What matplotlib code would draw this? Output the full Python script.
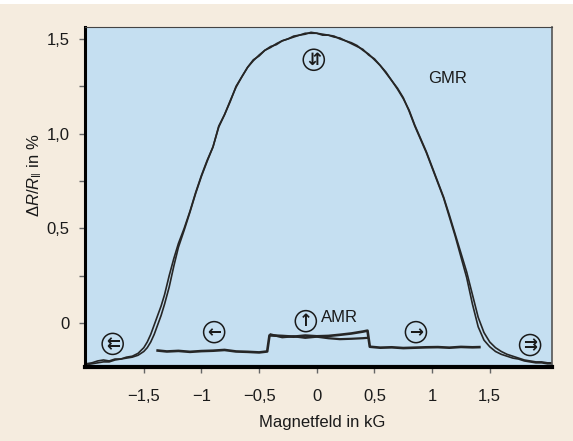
import matplotlib
matplotlib.use("Agg")
import matplotlib.pyplot as plt
from matplotlib.patches import Rectangle
from matplotlib.ticker import FixedLocator, FixedFormatter

# Werte
feld = [-2.00, -1.95, -1.90, -1.85, -1.80, -1.75, -1.70, -1.65, -1.60, -1.55,
        -1.50, -1.47, -1.44, -1.41, -1.38, -1.35, -1.32, -1.28, -1.24, -1.20,
        -1.15, -1.10, -1.05, -1.00, -0.95, -0.90, -0.85, -0.80, -0.75, -0.70,
        -0.65, -0.60, -0.55, -0.50, -0.45, -0.40, -0.35, -0.30, -0.25, -0.20,
        -0.15, -0.10, -0.05, 0.00, 0.05, 0.10, 0.15, 0.20, 0.25, 0.30,
        0.35, 0.40, 0.45, 0.50, 0.55, 0.60, 0.65, 0.70, 0.75, 0.80,
        0.85, 0.90, 0.95, 1.00, 1.05, 1.10, 1.15, 1.20, 1.25, 1.30,
        1.35, 1.40, 1.45, 1.50, 1.55, 1.60, 1.65, 1.70, 1.75, 1.80,
        1.85, 1.90, 1.95, 2.00, 2.04]

gmr_hin = [-0.215, -0.21, -0.20, -0.195, -0.20, -0.19, -0.19, -0.18, -0.175, -0.16,
           -0.13, -0.10, -0.06, -0.01, 0.04, 0.09, 0.15, 0.25, 0.34, 0.42,
           0.50, 0.59, 0.69, 0.78, 0.86, 0.93, 1.04, 1.10, 1.17, 1.25,
           1.30, 1.35, 1.39, 1.41, 1.44, 1.46, 1.47, 1.49, 1.50, 1.51,
           1.52, 1.53, 1.53, 1.53, 1.525, 1.52, 1.51, 1.505, 1.49, 1.48,
           1.465, 1.44, 1.42, 1.39, 1.36, 1.32, 1.28, 1.24, 1.19, 1.12,
           1.04, 0.97, 0.90, 0.82, 0.74, 0.66, 0.56, 0.46, 0.35, 0.24,
           0.10, -0.02, -0.09, -0.125, -0.15, -0.165, -0.175, -0.185, -0.19, -0.20,
           -0.205, -0.21, -0.21, -0.215, -0.215]

gmr_rueck = [-0.22, -0.215, -0.21, -0.205, -0.205, -0.195, -0.19, -0.185, -0.18, -0.17,
             -0.15, -0.13, -0.10, -0.06, -0.01, 0.04, 0.10, 0.19, 0.30, 0.40,
             0.49, 0.585, 0.685, 0.775, 0.855, 0.93, 1.035, 1.10, 1.175, 1.245,
             1.30, 1.35, 1.385, 1.415, 1.44, 1.455, 1.475, 1.49, 1.50, 1.515,
             1.52, 1.525, 1.535, 1.53, 1.52, 1.52, 1.515, 1.50, 1.49, 1.475,
             1.46, 1.445, 1.415, 1.395, 1.36, 1.325, 1.28, 1.235, 1.185, 1.125,
             1.045, 0.975, 0.905, 0.825, 0.745, 0.665, 0.57, 0.47, 0.37, 0.27,
             0.15, 0.03, -0.05, -0.10, -0.13, -0.15, -0.165, -0.175, -0.185, -0.195,
             -0.20, -0.205, -0.205, -0.21, -0.21]

amr_feld = [-1.38, -1.30, -1.20, -1.10, -1.00, -0.90, -0.80, -0.70, -0.60, -0.50,
            -0.43, -0.41, -0.30, -0.20, -0.10, 0.00, 0.10, 0.20, 0.30, 0.40,
            0.44, 0.46, 0.55, 0.65, 0.75, 0.85, 0.95, 1.05, 1.15, 1.25,
            1.35, 1.41]
amr_werte = [-0.145, -0.150, -0.147, -0.152, -0.148, -0.146, -0.142, -0.150, -0.152, -0.155,
             -0.150, -0.065, -0.068, -0.072, -0.066, -0.070, -0.068, -0.062, -0.055, -0.045,
             -0.040, -0.125, -0.130, -0.128, -0.132, -0.130, -0.128, -0.127, -0.130, -0.126,
             -0.128, -0.127]
amr_feld_mitte = [-0.40, -0.30, -0.20, -0.10, 0.00, 0.10, 0.20, 0.30, 0.40, 0.44]
amr_werte_mitte = [-0.060, -0.075, -0.070, -0.078, -0.072, -0.080, -0.085, -0.083, -0.080, -0.078]

x_ticks = [-1.5, -1.0, -0.5, 0.0, 0.5, 1.0, 1.5]
x_labels = ["\u22121,5", "\u22121", "\u22120,5", "0", "0,5", "1", "1,5"]
y_ticks = [0.0, 0.5, 1.0, 1.5]
y_labels = ["0", "0,5", "1,0", "1,5"]

schrift = ["Liberation Sans", "DejaVu Sans"]
plt.rcParams["font.family"] = schrift
plt.rcParams["mathtext.fontset"] = "custom"
plt.rcParams["mathtext.rm"] = "Liberation Sans"
plt.rcParams["mathtext.it"] = "Liberation Sans:italic"

fig = plt.figure(figsize=(5.73, 4.41), dpi=100, facecolor="#f5ecdf")
fig.patches.append(Rectangle((0, 1 - 4 / 441), 1, 4 / 441, transform=fig.transFigure,
                             facecolor="white", edgecolor="none", zorder=0))
ax = fig.add_axes([85 / 573, 1 - 367 / 441, 467 / 573, 340 / 441])
ax.set_facecolor("#c5dff1")

linie = "#262626"
ax.plot(feld, gmr_hin, color=linie, lw=1.2)
ax.plot(feld, gmr_rueck, color=linie, lw=1.2)
ax.plot(amr_feld, amr_werte, color=linie, lw=1.9)
ax.plot(amr_feld_mitte, amr_werte_mitte, color=linie, lw=1.6)

ax.set_xlim(-2.01, 2.04)
ax.set_ylim(-0.232, 1.563)

# Kreissymbole mit Magnetisierungspfeilen
symbole = [(-1.77, -0.11, "\u21c7"), (-0.89, -0.048, "\u2190"), (-0.095, 0.01, "\u2191"),
           (0.86, -0.048, "\u2192"), (1.85, -0.116, "\u21c9"), (-0.026, 1.39, "\u21f5")]
for sx, sy, pfeil in symbole:
    ax.scatter([sx], [sy], s=230, facecolors="none", edgecolors="#1a1a1a", linewidths=1.1, zorder=3)
    ax.text(sx, sy, pfeil, ha="center", va="center", fontsize=12, family="DejaVu Sans",
            fontweight="bold", color="#1a1a1a", zorder=4)

ax.text(1.13, 1.29, "GMR", ha="center", va="center", fontsize=12, color="#1a1a1a")
ax.text(0.04, 0.03, "AMR", ha="left", va="center", fontsize=12, color="#1a1a1a")

ax.xaxis.set_major_locator(FixedLocator(x_ticks))
ax.xaxis.set_major_formatter(FixedFormatter(x_labels))
ax.yaxis.set_major_locator(FixedLocator(y_ticks))
ax.yaxis.set_major_formatter(FixedFormatter(y_labels))
ax.yaxis.set_minor_locator(FixedLocator([0.25, 0.75, 1.25]))
ax.tick_params(axis="both", which="both", direction="out", length=4, width=1.0,
               color="#666666", labelsize=12, labelcolor="#1a1a1a")
ax.tick_params(axis="x", pad=12)
ax.tick_params(axis="y", pad=7)

ax.spines["bottom"].set_linewidth(3.0)
ax.spines["bottom"].set_color("black")
ax.spines["left"].set_linewidth(2.2)
ax.spines["left"].set_color("black")
ax.spines["top"].set_linewidth(0.8)
ax.spines["top"].set_color("#444444")
ax.spines["right"].set_linewidth(1.2)
ax.spines["right"].set_color("#555555")

fig.text(322 / 573, 1 - 423 / 441, "Magnetfeld in kG", ha="center", va="center",
         fontsize=12, color="#1a1a1a")
fig.text(35 / 573, 1 - 175 / 441, r"$\Delta R/R_{\|}$ in %", ha="center", va="center",
         rotation=90, fontsize=12, color="#1a1a1a")

fig.savefig("out.png", dpi=100, facecolor=fig.get_facecolor())
